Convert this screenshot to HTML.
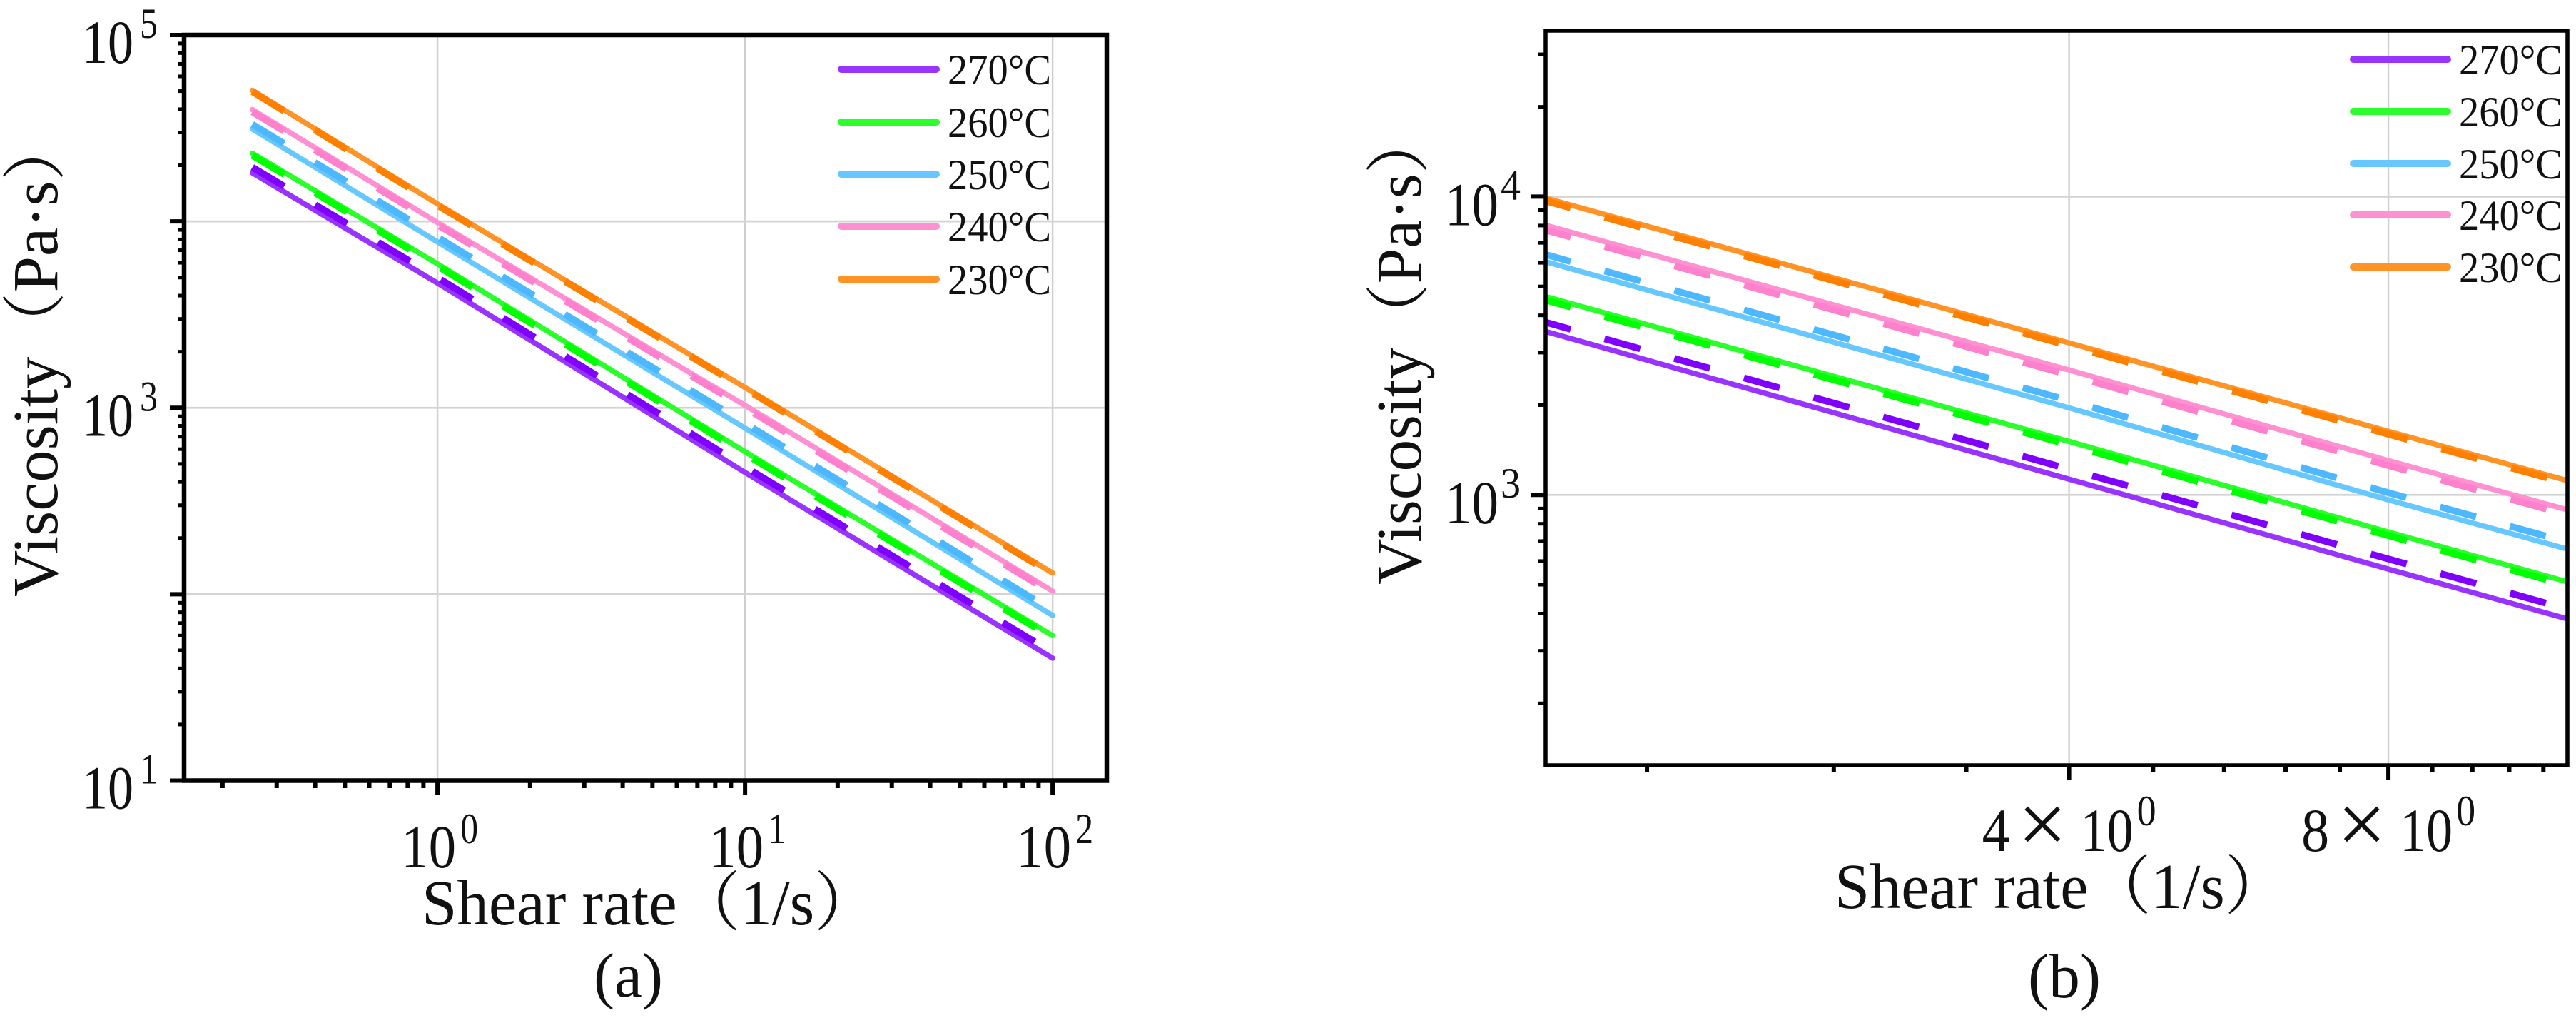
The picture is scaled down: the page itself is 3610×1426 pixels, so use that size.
<!DOCTYPE html>
<html lang="en">
<head>
<meta charset="utf-8">
<title>Viscosity vs shear rate</title>
<style>
html,body{margin:0;padding:0;background:#fff;width:3610px;height:1426px;overflow:hidden}
svg{display:block}
text{font-family:"Liberation Serif","Noto Serif CJK SC",serif;fill:#111}
</style>
</head>
<body>
<svg id="figure" xmlns="http://www.w3.org/2000/svg" width="3610" height="1426" viewBox="0 0 3610 1426">
  <rect x="0" y="0" width="3610" height="1426" fill="#fff"/>
  <g id="panelA"></g>
  <g id="panelB"></g>
</svg>
<script>
// ---- shared legend data ----
const seriesNames = ['270°C', '260°C', '250°C', '240°C', '230°C'];
const seriesIds = ['270', '260', '250', '240', '230'];
const solidColors = ['#9933ff', '#2bff2b', '#66c8ff', '#ff90d2', '#ff9326'];
const dashColors = ['#7f00ff', '#00ff00', '#4db8ff', '#ff80cc', '#ff8000'];

// ---- panel (a) data ----
const rateA = [0.25, 1, 10, 100];
const solidA270 = [18200, 4670, 450, 45.4];
const solidA260 = [23200, 5920, 581, 60];
const solidA250 = [31300, 7760, 778, 77];
const solidA240 = [39800, 9860, 1030, 104];
const solidA230 = [50500, 12400, 1285, 130];
const dashA270 = [19500, 5000, 482, 48.6];
const dashA260 = [22600, 5760, 565, 58.4];
const dashA250 = [33200, 8230, 825, 81.6];
const dashA240 = [38700, 9590, 1000, 101];
const dashA230 = [49700, 12200, 1265, 128];
const xMajorA = [1, 10, 100];
const xMinorA = [0.2,0.3,0.4,0.5,0.6,0.7,0.8,0.9,2,3,4,5,6,7,8,9,20,30,40,50,60,70,80,90];
const xExpA = ['0', '1', '2'];
const yMajorA = [10, 100, 1000, 10000, 100000];
const yMinorA = [20,30,40,50,60,70,80,90,200,300,400,500,600,700,800,900,2000,3000,4000,5000,6000,7000,8000,9000,20000,30000,40000,50000,60000,70000,80000,90000];
const yLabelValuesA = [10, 1000, 100000];
const yExpA = ['1', '3', '5'];

// ---- panel (b) data ----
const rateB = [1.284, 4, 8, 11.8];
const solidB270 = [3532, 1129, 564, 384];
const solidB260 = [4624, 1511, 751, 511];
const solidB250 = [6053, 1958, 962, 658];
const solidB240 = [8017, 2623, 1303, 891];
const solidB230 = [9885, 3233, 1633, 1116];
const dashB270 = [3793, 1219, 610, 414];
const dashB260 = [4500, 1471, 730, 497];
const dashB250 = [6397, 2070, 1017, 695];
const dashB240 = [7720, 2523, 1254, 857];
const dashB230 = [9674, 3163, 1597, 1092];
const xMajorB = [4, 8];
const xMinorB = [1.6, 2.4, 3.2, 4.8, 5.6, 6.4, 7.2, 8.8, 9.6, 10.4, 11.2];
const xMantissaB = ['4', '8'];
const yMajorB = [1000, 10000];
const yMinorB = [200,300,400,500,600,700,800,900,2000,3000,4000,5000,6000,7000,8000,9000,20000,30000];
const yExpB = ['3', '4'];

const NS = 'http://www.w3.org/2000/svg';
function make(parent, tag, attrs) {
  const node = document.createElementNS(NS, tag);
  for (const k in attrs) node.setAttribute(k, attrs[k]);
  parent.appendChild(node);
  return node;
}
function label(parent, str, x, y, size, len, rotate) {
  const node = make(parent, 'text', {x: x, y: y, 'font-size': size, textLength: len, lengthAdjust: 'spacingAndGlyphs'});
  if (rotate) node.setAttribute('transform', 'rotate(-90 ' + x + ' ' + y + ')');
  node.textContent = str;
  return node;
}
function logScale(d0, d1, r0, r1) {
  const a = Math.log10(d0), b = Math.log10(d1);
  return function (v) { return r0 + (Math.log10(v) - a) / (b - a) * (r1 - r0); };
}

function drawFrame(g, box, sx, sy, xMajor, xMinor, yMajor, yMinor, spineW, ticks) {
  xMajor.forEach(function (v) {
    const el = make(g, 'line', {x1: sx(v), x2: sx(v), y1: box.top, y2: box.bottom, stroke: '#cfcfcf', 'stroke-width': 2.4});
    
    
  });
  yMajor.forEach(function (v) {
    if (sy(v) <= box.top + 1 || sy(v) >= box.bottom - 1) return;
    const el = make(g, 'line', {x1: box.left, x2: box.right, y1: sy(v), y2: sy(v), stroke: '#d4d4d4', 'stroke-width': 2.8});
    
    
  });
  return function drawSpinesAndTicks() {
    xMajor.forEach(function (v) {
      const el = make(g, 'line', {x1: sx(v), x2: sx(v), y1: box.bottom, y2: ticks.xMajorEnd, stroke: '#000', 'stroke-width': 6});
      
      
    });
    xMinor.forEach(function (v) {
      const el = make(g, 'line', {x1: sx(v), x2: sx(v), y1: box.bottom, y2: ticks.xMinorEnd, stroke: '#000', 'stroke-width': 6});
      
      
    });
    yMajor.forEach(function (v) {
      const el = make(g, 'line', {x1: box.left, x2: ticks.yMajorEnd, y1: sy(v), y2: sy(v), stroke: '#000', 'stroke-width': 6});
      
      
    });
    yMinor.forEach(function (v) {
      const el = make(g, 'line', {x1: box.left, x2: ticks.yMinorEnd, y1: sy(v), y2: sy(v), stroke: '#000', 'stroke-width': 5});
      
      
    });
    const frame = make(g, 'rect', {x: box.left, y: box.top, width: box.right - box.left, height: box.bottom - box.top, fill: 'none', stroke: '#000', 'stroke-width': spineW});
    
    
  };
}

function drawSeries(g, clipId, rates, rows, colors, sx, sy, width, dash, offset, kind) {
  rows.forEach(function (row, i) {
    const pts = row.map(function (v, j) { return sx(rates[j]).toFixed(2) + ',' + sy(v).toFixed(2); }).join(' ');
    const el = make(g, 'polyline', {points: pts, fill: 'none', stroke: colors[i], 'stroke-width': width, 'clip-path': 'url(#' + clipId + ')'});
    
    
    if (dash) {
      el.setAttribute('stroke-dasharray', dash);
      el.setAttribute('stroke-dashoffset', offset);
    } else {
      el.setAttribute('stroke-linecap', 'round');
    }
  });
}

function drawLegend(g, lx0, lx1, tx, tlen, ys) {
  seriesNames.forEach(function (name, i) {
    const ln = make(g, 'line', {x1: lx0, x2: lx1, y1: ys[i], y2: ys[i], stroke: solidColors[i], 'stroke-width': 10, 'stroke-linecap': 'round'});
    
    
    const t = label(g, name, tx, ys[i] + 21, 60, tlen);
    
    
  });
}

// ---------- Panel (a) ----------
(function () {
  const g = document.getElementById('panelA');
  const box = {left: 258, right: 1551, top: 49, bottom: 1093.5};
  const sx = logScale(0.15, 150, box.left, box.right);
  const sy = logScale(10, 100000, box.bottom, box.top);

  const defs = make(g, 'defs', {});
  const clip = make(defs, 'clipPath', {id: 'clipA'});
  make(clip, 'rect', {x: box.left, y: box.top, width: box.right - box.left, height: box.bottom - box.top});

  const finish = drawFrame(g, box, sx, sy, xMajorA, xMinorA, yMajorA, yMinorA, 6.5,
    {xMajorEnd: 1113, xMinorEnd: 1104, yMajorEnd: 238, yMinorEnd: 250});

  drawSeries(g, 'clipA', rateA, [solidA270, solidA260, solidA250, solidA240, solidA230], solidColors, sx, sy, 7.5, null, 0, 'solid');
  drawSeries(g, 'clipA', rateA, [dashA270, dashA260, dashA250, dashA240, dashA230], dashColors, sx, sy, 9.5, '52 50.5', 0, 'dashed');
  finish();

  yLabelValuesA.forEach(function (v, i) {
    const y = sy(v);
    const base = label(g, '10', 115, y + 39, 86, 72);
    
    
    const sup = label(g, yExpA[i], 196, y + 4, 60, 25);
    
    
  });
  xMajorA.forEach(function (v, i) {
    const x = sx(v);
    const base = label(g, '10', x - 51, 1215, 86, 77);
    
    
    const sup = label(g, xExpA[i], x + 32, 1181, 60, 25);
    
    
  });

  const xt = label(g, 'Shear rate（1/s）', 591, 1295, 90, 639);
  
  
  const yt = label(g, 'Viscosity（Pa·s）', 80, 836, 90, 673, true);
  
  
  const cap = label(g, '(a)', 832, 1396, 88, 97);
  
  

  drawLegend(g, 1179, 1312, 1328, 145, [97, 171, 244, 317, 391]);
})();

// ---------- Panel (b) ----------
(function () {
  const g = document.getElementById('panelB');
  const box = {left: 2166, right: 3598, top: 43, bottom: 1072};
  const sx = logScale(1.284, 11.8, box.left, box.right);
  const sy = logScale(124, 36000, box.bottom, box.top);

  const defs = make(g, 'defs', {});
  const clip = make(defs, 'clipPath', {id: 'clipB'});
  make(clip, 'rect', {x: box.left, y: box.top, width: box.right - box.left, height: box.bottom - box.top});

  const finish = drawFrame(g, box, sx, sy, xMajorB, xMinorB, yMajorB, yMinorB, 5.5,
    {xMajorEnd: 1092, xMinorEnd: 1082, yMajorEnd: 2146, yMinorEnd: 2156});

  drawSeries(g, 'clipB', rateB, [solidB270, solidB260, solidB250, solidB240, solidB230], solidColors, sx, sy, 7.5, null, 0, 'solid');
  drawSeries(g, 'clipB', rateB, [dashB270, dashB260, dashB250, dashB240, dashB230], dashColors, sx, sy, 9.5, '52 49.4', 15.6, 'dashed');
  finish();

  yMajorB.forEach(function (v, i) {
    const y = sy(v);
    const base = label(g, '10', 2025, y + 40, 86, 75);
    
    
    const sup = label(g, yExpB[i], 2103, y + 4, 60, 28);
    
    
  });
  xMajorB.forEach(function (v, i) {
    const x = sx(v);
    const m = label(g, xMantissaB[i], x - 122, 1192, 86, 39);
    
    
    const times = label(g, '×', x - 72, 1195, 122, 69);
    
    
    const base = label(g, '10', x + 16, 1192, 86, 74);
    
    
    const sup = label(g, '0', x + 95, 1156, 60, 27);
    
    
  });

  const xt = label(g, 'Shear rate（1/s）', 2571, 1272, 90, 635);
  
  
  const yt = label(g, 'Viscosity（Pa·s）', 1991, 819, 90, 665, true);
  
  
  const cap = label(g, '(b)', 2842, 1397, 88, 102);
  
  

  drawLegend(g, 3298, 3430, 3446, 145, [83, 156, 229, 301, 374]);
})();
</script>
</body>
</html>
